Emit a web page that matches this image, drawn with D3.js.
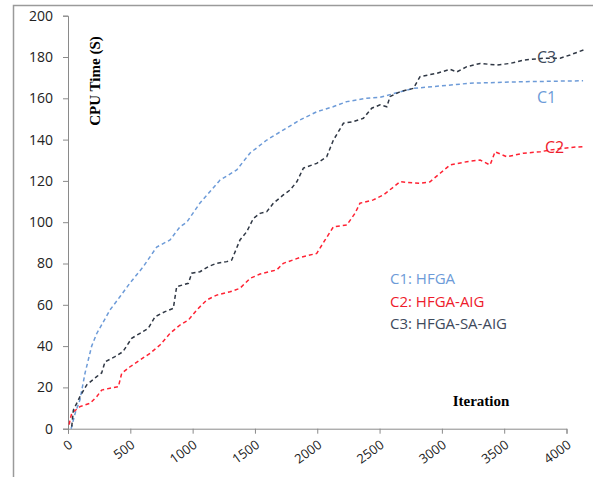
<!DOCTYPE html>
<html>
<head>
<meta charset="utf-8">
<script src="https://cdn.jsdelivr.net/npm/d3@7"></script>
<style>
  body { margin: 0; background: #fff; }
  text { font-family: "Open Sans", sans-serif; }
</style>
</head>
<body>
<svg></svg>
<script>
// values: [iteration, cpu time]
const c1 = [[25,0],[60,8],[96,14],[137,27],[190,40],[230,46],[337,57.5],[418,64],[498,70.6],[602,78.3],
  [712,88],[819,91.4],[899,97.8],[953,100],[1059,109.3],[1220,120.4],[1354,125.3],[1461,133.5],[1595,139.8],
  [1726,144.6],[1862,149.5],[1996,153.5],[2127,155.9],[2237,158.4],[2397,160],[2504,160.5],[2769,164.8],
  [3226,167.3],[3628,168],[4133,168.5]];
const c2 = [[10,2],[16,4.2],[30,7.5],[96,10.7],[177,12.3],[230,15.5],[270,18.7],[337,19.6],[404,20.3],[431,26.8],
  [498,30],[578,33.3],[658,36.5],[738,40.5],[819,46.2],[899,50.2],[966,52.6],[1033,57.5],[1113,62.3],
  [1193,64.7],[1300,66.3],[1380,68],[1461,72.8],[1541,74.9],[1675,76.9],[1728,80.1],[1862,82.9],[1996,84.9],
  [2063,91.4],[2130,97.8],[2237,98.6],[2303,104.3],[2343,109.2],[2450,110.8],[2531,113.2],[2611,117],
  [2665,119.6],[2825,118.8],[2905,119.6],[2986,123.7],[3066,127.7],[3200,129.3],[3307,130.1],[3387,127.7],
  [3427,134.1],[3521,131.7],[3654,133.4],[3788,134.1],[3869,135],[4056,136.3],[4135,136.6]];
const c3 = [[30,1],[43,9],[96,15.5],[150,21.2],[230,25.2],[270,27],[297,32.4],[377,34.9],[441,37.3],[511,43.8],
  [578,46.2],[644,48.6],[698,54.2],[779,56.7],[845,58.3],[872,68.8],[966,70.4],[993,75.3],[1059,76],
  [1126,78.5],[1193,80.1],[1274,80.9],[1314,81.7],[1380,91.4],[1434,95.4],[1488,101.9],[1541,104.3],
  [1595,105.1],[1648,109.2],[1728,113.2],[1782,115.6],[1836,119.6],[1889,126.2],[1996,128.5],[2076,131.7],
  [2130,139.8],[2210,147.9],[2290,148.7],[2370,150.3],[2437,155.2],[2504,156.8],[2558,155.9],[2584,160.8],
  [2665,163.2],[2771,164.8],[2825,170.5],[2959,172.1],[3066,174],[3120,172.8],[3200,175.3],[3307,176.9],
  [3441,176.1],[3548,176.9],[3654,178.5],[3815,179.4],[3949,179.4],[4029,181],[4136,183.4]];

const xTicks = [0, 500, 1000, 1500, 2000, 2500, 3000, 3500, 4000];
const yTicks = [0, 20, 40, 60, 80, 100, 120, 140, 160, 180, 200];
const seriesNames = ["C1", "C2", "C3"];
const legendLabels = ["C1: HFGA", "C2: HFGA-AIG", "C3: HFGA-SA-AIG"];
const colours = ["#6d9bd8", "#ff2233", "#2f3744"];
const legendColours = ["#6d9bd8", "#ee1c2c", "#3e4a5c"];

const WIDTH = 593;
const HEIGHT = 477;

let svg = d3.select('svg').attr('width', WIDTH).attr('height', HEIGHT);

// frame of the pasted picture
svg.append('rect').attr('x', 13.5).attr('y', 5.5).attr('width', 620).attr('height', 500)
  .attr('fill', 'none').attr('stroke', '#9a9a9a').attr('stroke-width', 1.5);

let xScale = d3.scaleLinear().domain([0, 4000]).range([68, 566.5]);
let yScale = d3.scaleLinear().domain([0, 200]).range([428.7, 15.7]);

// y axis
let yAxis = svg.append('g').attr('transform', 'translate(68,0)')
  .call(d3.axisLeft(yScale).tickValues(yTicks).tickSize(5).tickPadding(10));
yAxis.select('.domain').attr('stroke', '#8a8a8a');
yAxis.selectAll('.tick line').attr('stroke', '#8a8a8a');
yAxis.selectAll('.tick text').attr('font-size', 14).attr('fill', '#222')
  .attr('font-family', '"Open Sans", sans-serif');

// x axis
let xAxis = svg.append('g').attr('transform', 'translate(0,428.7)')
  .call(d3.axisBottom(xScale).tickValues(xTicks).tickSize(5).tickFormat(d3.format('d')));
xAxis.select('.domain').attr('stroke', '#8a8a8a');
xAxis.selectAll('.tick line').attr('stroke', '#8a8a8a');
xAxis.selectAll('.tick text')
  .attr('font-size', 13).attr('fill', '#222')
  .attr('font-family', '"Open Sans", sans-serif')
  .attr('text-anchor', 'end')
  .attr('dy', null)
  .attr('y', 0)
  .attr('transform', 'translate(5,18) rotate(-36)');

// lines
let line = d3.line().x(d => xScale(d[0])).y(d => yScale(d[1]));
[c1, c2, c3].forEach(function(s, i) {
  svg.append('path').datum(s).attr('d', line)
    .attr('fill', 'none').attr('stroke', colours[i])
    .attr('stroke-width', 1.5).attr('stroke-dasharray', '4,3');
});

// labels at line ends
svg.append('text').attr('x', 537).attr('y', 63).text(seriesNames[2])
  .attr('font-size', 16).attr('fill', '#3e4a5c');
svg.append('text').attr('x', 537).attr('y', 103).text(seriesNames[0])
  .attr('font-size', 16).attr('fill', '#6d9bd8');
svg.append('text').attr('x', 545).attr('y', 153).text(seriesNames[1])
  .attr('font-size', 16).attr('fill', '#ee1c2c');

// legend text
legendLabels.forEach(function(t, i) {
  svg.append('text').attr('x', 390).attr('y', 284 + i * 22.5).text(t)
    .attr('font-size', 15).attr('fill', legendColours[i]);
});

// axis titles
svg.append('text').attr('transform', 'translate(100,81) rotate(-90)')
  .attr('text-anchor', 'middle').text('CPU Time (S)')
  .style('font-family', '"Liberation Serif", serif').attr('font-weight', 'bold')
  .attr('font-size', 15).attr('fill', '#000');
svg.append('text').attr('x', 481).attr('y', 406)
  .attr('text-anchor', 'middle').text('Iteration')
  .style('font-family', '"Liberation Serif", serif').attr('font-weight', 'bold')
  .attr('font-size', 15).attr('fill', '#000');
</script>
</body>
</html>
